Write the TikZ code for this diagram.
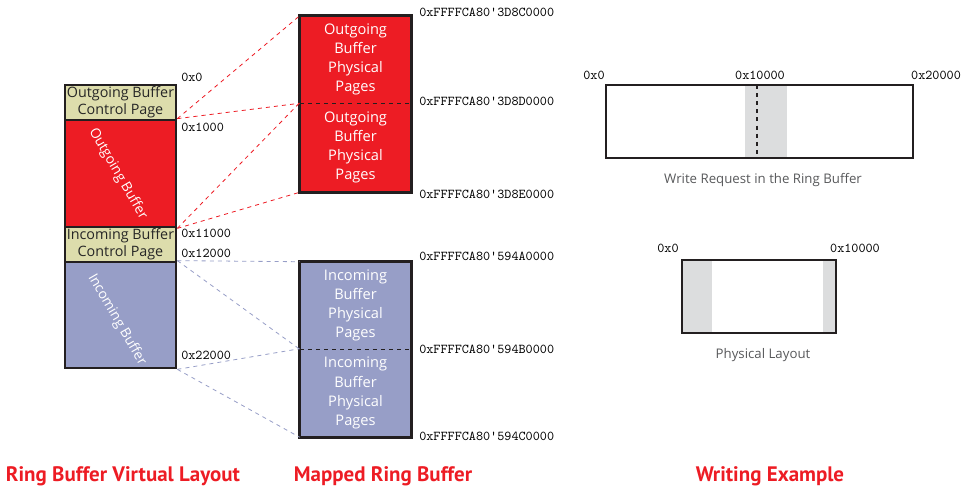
\documentclass[tikz,border=0pt]{standalone}
\usepackage{fontspec}
\setmainfont{Open Sans}
\newfontfamily\titlefont{PT Sans}
\usetikzlibrary{fit}
\definecolor{outred}{RGB}{237,28,36}
\definecolor{inblue}{RGB}{151,158,199}
\definecolor{ctrlbeige}{RGB}{221,221,172}
\definecolor{bandgray}{RGB}{220,221,222}
\definecolor{edgegray}{RGB}{35,31,32}
\definecolor{capgray}{RGB}{88,89,91}
\newcommand{\tick}{\textquotesingle}
\tikzset{pagebox/.style={draw=edgegray, line width=2pt, inner sep=0pt},
  ctrltext/.style={align=center, inner sep=0pt, text=black!85, font=\fontsize{10.6}{12.3}\selectfont},
  halfbox/.style={inner sep=0pt},
  halftext/.style={align=center, inner sep=0pt, text=white, font=\fontsize{10.8}{14.2}\selectfont},
  frame/.style={draw=edgegray, line width=2pt, inner sep=0pt},
  rottext/.style={text=white, font=\fontsize{10.2}{12}\selectfont},
  addrlbl/.style={inner sep=0pt, font=\ttfamily\fontsize{10}{12}\selectfont},
  divider/.style={dashed, edgegray, line width=0.8pt},
  outmap/.style={dashed, outred, line width=0.6pt},
  inmap/.style={dashed, inblue, line width=0.6pt},
  band/.style={fill=bandgray, inner sep=0pt},
  caption/.style={text=capgray, font=\fontsize{9.8}{11}\selectfont},
  paneltitle/.style={text=outred, font=\titlefont\bfseries\fontsize{15.5}{18}\selectfont}}

\begin{document}
\begin{tikzpicture}[x=0.026cm, y=-0.026cm]
\useasboundingbox (0,0) rectangle (963,490);
% virtual layout
\node[pagebox, fill=ctrlbeige, fit={(65,85)(176,120)}] (octrl) {};
\node[pagebox, fill=outred, fit={(65,120)(176,227)}] (obuf) {};
\node[pagebox, fill=ctrlbeige, fit={(65,227)(176,262)}] (ictrl) {};
\node[pagebox, fill=inblue, fit={(65,262)(176,368)}] (ibuf) {};
\node[ctrltext] (octrltxt) at (octrl.center) {Outgoing Buffer\\Control Page};
\node[ctrltext] (ictrltxt) at (ictrl.center) {Incoming Buffer\\Control Page};
\node[rottext, rotate=-60] (obuftxt) at (118,174) {Outgoing Buffer};
\node[rottext, rotate=-60] (ibuftxt) at (117,320) {Incoming Buffer};
\node[addrlbl, anchor=west] (v0) at (181,77) {0x0};
\node[addrlbl, anchor=west] (v1) at (181,127) {0x1000};
\node[addrlbl, anchor=west] (v2) at (181,233) {0x11000};
\node[addrlbl, anchor=west] (v3) at (181,253) {0x12000};
\node[addrlbl, anchor=west] (v4) at (181,355) {0x22000};
% mapped pages
\node[halfbox, fill=outred, fit={(300,16)(411,103)}] (ophysA) {};
\node[halfbox, fill=outred, fit={(300,103)(411,192)}] (ophysB) {};
\node[halfbox, fill=inblue, fit={(300,262)(411,349)}] (iphysA) {};
\node[halfbox, fill=inblue, fit={(300,349)(411,437)}] (iphysB) {};
\node[frame, fit=(ophysA)(ophysB)] (ophys) {};
\node[frame, fit=(iphysA)(iphysB)] (iphys) {};
\draw[divider] (ophysA.south west) -- (ophysA.south east);
\draw[divider] (iphysA.south west) -- (iphysA.south east);
\node[halftext] (otxtA) at (ophysA.center) {Outgoing\\Buffer\\Physical\\Pages};
\node[halftext] (otxtB) at (ophysB.center) {Outgoing\\Buffer\\Physical\\Pages};
\node[halftext] (itxtA) at (iphysA.center) {Incoming\\Buffer\\Physical\\Pages};
\node[halftext] (itxtB) at (iphysB.center) {Incoming\\Buffer\\Physical\\Pages};
\node[addrlbl, anchor=west] (p0) at (419,12) {0xFFFFCA80\tick3D8C0000};
\node[addrlbl, anchor=west] (p1) at (419,101) {0xFFFFCA80\tick3D8D0000};
\node[addrlbl, anchor=west] (p2) at (419,194) {0xFFFFCA80\tick3D8E0000};
\node[addrlbl, anchor=west] (p3) at (419,256) {0xFFFFCA80\tick594A0000};
\node[addrlbl, anchor=west] (p4) at (419,349) {0xFFFFCA80\tick594B0000};
\node[addrlbl, anchor=west] (p5) at (419,436) {0xFFFFCA80\tick594C0000};
\draw[outmap] (obuf.north east) -- (ophysA.north west);
\draw[outmap] (obuf.north east) -- (ophysA.south west);
\draw[outmap] (obuf.south east) -- (ophysB.north west);
\draw[outmap] (obuf.south east) -- (ophysB.south west);
\draw[inmap] (ibuf.north east) -- (iphysA.north west);
\draw[inmap] (ibuf.north east) -- (iphysA.south west);
\draw[inmap] (ibuf.south east) -- (iphysB.north west);
\draw[inmap] (ibuf.south east) -- (iphysB.south west);
% writing example
\node[band, fit={(745,85)(787,158)}] (wband) {};
\node[frame, fit={(606,85)(913,158)}] (wreq) {};
\coordinate (wmid) at (757,85);
\draw[divider] (wmid) -- (wmid |- wreq.south);
\node[addrlbl] (w0) at (594,75) {0x0};
\node[addrlbl] (w1) at (760,75) {0x10000};
\node[addrlbl] (w2) at (936,75) {0x20000};
\node[caption] (wcap) at (763,180) {Write Request in the Ring Buffer};
\node[band, fit={(682,260)(712,333)}] (lband) {};
\node[band, fit={(823,260)(836,333)}] (rband) {};
\node[frame, fit={(682,260)(836,333)}] (phys) {};
\node[addrlbl] (l0) at (668,248) {0x0};
\node[addrlbl] (l1) at (855,248) {0x10000};
\node[caption] (lcap) at (763,355) {Physical Layout};
% titles
\node[paneltitle] (t1) at (123,476) {Ring Buffer Virtual Layout};
\node[paneltitle] (t2) at (383,476) {Mapped Ring Buffer};
\node[paneltitle] (t3) at (770,476) {Writing Example};
\end{tikzpicture}
\end{document}
